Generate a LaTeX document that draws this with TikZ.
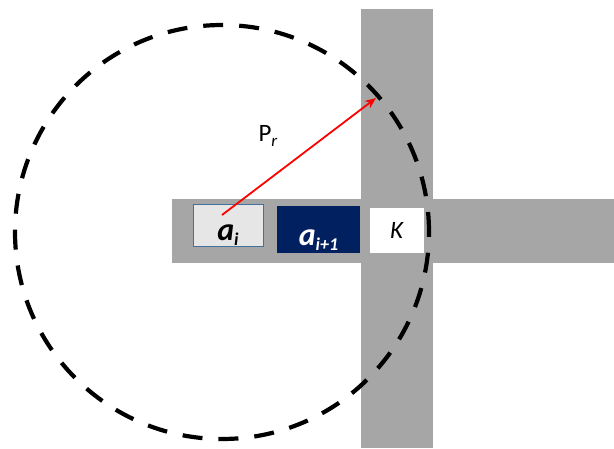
\documentclass[tikz,border=0pt]{standalone}
\usepackage{fontspec}
\setmainfont{Carlito}
\usetikzlibrary{arrows.meta}
\definecolor{bargray}{HTML}{A6A6A6}
\definecolor{boxgray}{HTML}{E7E6E6}
\definecolor{boxedge}{HTML}{41719C}
\definecolor{navy}{HTML}{002060}
\tikzset{
  cell/.style={minimum width=#1, inner sep=0pt},
}
\begin{document}
\begin{tikzpicture}[x=1pt,y=-1pt]
\useasboundingbox (0,0) rectangle (614,448);
% bars
\fill[bargray] (172,199) rectangle (614,263);
\fill[bargray] (361,9) rectangle (433,448);
% cells
\node[cell=70pt, draw=boxedge, line width=0.8pt, fill=boxgray, minimum height=42pt, text height=30pt, text depth=0pt] (ai) at (228,225) {\fontsize{32}{32}\selectfont\textbf{\textit{a}}\raisebox{-5pt}{\fontsize{18}{18}\selectfont\textbf{\textit{i}}}};
\node[cell=83pt, fill=navy, minimum height=47pt, text=white, text height=31pt, text depth=0pt] (ai1) at (318.5,229.5) {\fontsize{32}{32}\selectfont\textbf{\textit{a}}\raisebox{-5pt}{\fontsize{18}{18}\selectfont\textbf{\textit{i+1}}}};
\node[cell=54pt, fill=white, minimum height=45pt] (K) at (397,230.5) {\fontsize{25}{25}\selectfont\textit{K}};
% circle
\node[circle, draw=black, line width=4.2pt, dash pattern=on 20pt off 16pt, minimum size=414pt, inner sep=0pt] (C) at (222,232) {};
% arrow
\coordinate (start) at (222,215);
\coordinate (tip) at (376,98);
\draw[red, line width=1.8pt, -{Stealth[length=11pt,width=9pt]}] (start) -- (tip);
\node (Pr) at (268,136) {\fontsize{25}{25}\selectfont P\raisebox{-5pt}{\fontsize{17}{17}\selectfont\textit{r}}};
\end{tikzpicture}
\end{document}
